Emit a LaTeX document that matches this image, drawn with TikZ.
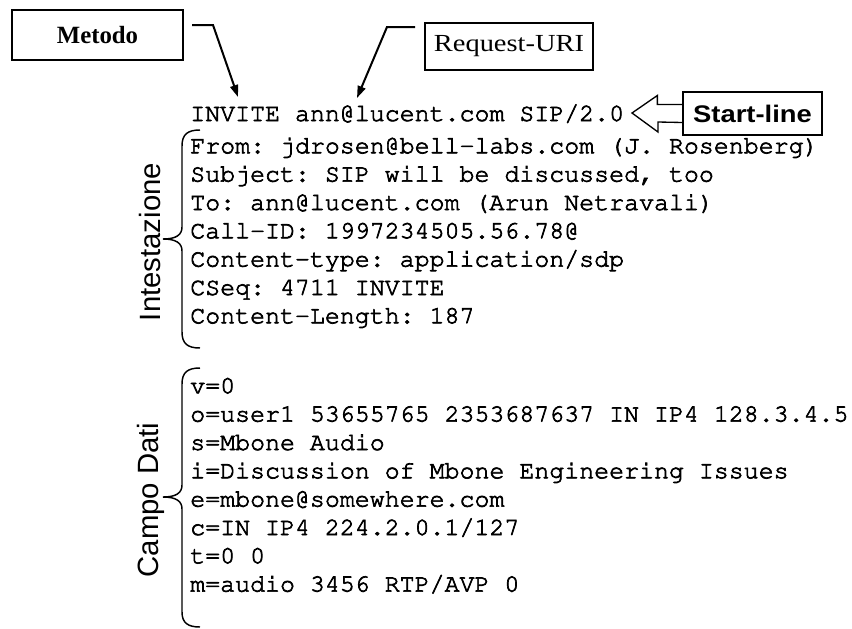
\documentclass[tikz,border=0pt]{standalone}
\usepackage{fontspec}
\setmainfont{Liberation Serif}
\newfontfamily\sansf{Liberation Sans}
% Courier (URW Nimbus Mono) through NFSS for the message text
\newcommand*\monof{\fontencoding{T1}\fontfamily{pcr}\fontseries{m}\selectfont\frenchspacing}
% slightly heavier strokes for the message text (fill + stroke rendering)
\newcommand*\heavyon{\special{pdf:literal direct 2 Tr 0.5 w}}
\newcommand*\heavyoff{\special{pdf:literal direct 0 Tr}}
\usetikzlibrary{arrows.meta}
\begin{document}
\begin{tikzpicture}[x=0.75pt,y=-0.75pt,
  msgline/.style={anchor=base west,inner sep=0pt,font=\fontsize{18.7}{22}\monof,
    execute at begin node=\heavyon, execute at end node=\heavyoff},
  sidelabel/.style={rotate=90,inner sep=0pt,font=\sansf\fontsize{22}{26}\selectfont},
  pointer/.style={line width=1.5pt,-{Triangle[length=9pt,width=6pt]}},
  curly/.style={line width=1.1pt}]
\useasboundingbox (0,0) rectangle (852,628);

% labelled boxes
\node[draw,line width=2.2pt,minimum width=128.25pt,minimum height=37.5pt,inner sep=0pt,
      font=\bfseries\fontsize{18.6}{22}\selectfont] (metodo) at (97.5,35) {Metodo};
\node[draw,line width=1.8pt,minimum width=126pt,minimum height=35.25pt,inner sep=0pt,
      font=\fontsize{18.4}{22}\selectfont] (uri) at (509,46.5) {\scalebox{1.16}[1]{Request-URI}};
\node[draw,line width=1pt,minimum width=104.25pt,minimum height=32.25pt,inner sep=0pt,
      font=\sansf\bfseries\fontsize{18}{22}\selectfont] (start) at (752.5,113.5) {\scalebox{1.14}[1]{Start-line}};

% section labels
\node[sidelabel] (intest) at (150,242) {Intestazione};
\node[sidelabel] (dati) at (151,500) {Campo Dati};

% request line
\node[msgline] (invite) at (190,121) {INVITE ann@lucent.com SIP/2.0};

% header fields
\node[msgline] (h1) at (190,153.3) {From: jdrosen@bell-labs.com (J. Rosenberg)};
\node[msgline] (h2) at (190,181.6) {Subject: SIP will be discussed, too};
\node[msgline] (h3) at (190,210.0) {To: ann@lucent.com (Arun Netravali)};
\node[msgline] (h4) at (190,238.3) {Call-ID: 1997234505.56.78@};
\node[msgline] (h5) at (190,266.6) {Content-type: application/sdp};
\node[msgline] (h6) at (190,295.0) {CSeq: 4711 INVITE};
\node[msgline] (h7) at (190,323.3) {Content-Length: 187};

% SDP body
\node[msgline] (d1) at (190,393.3) {v=0};
\node[msgline] (d2) at (190,421.6) {o=user1 53655765 2353687637 IN IP4 128.3.4.5};
\node[msgline] (d3) at (190,450.0) {s=Mbone Audio};
\node[msgline] (d4) at (190,478.3) {i=Discussion of Mbone Engineering Issues};
\node[msgline] (d5) at (190,506.6) {e=mbone@somewhere.com};
\node[msgline] (d6) at (190,535.0) {c=IN IP4 224.2.0.1/127};
\node[msgline] (d7) at (190,563.3) {t=0 0};
\node[msgline] (d8) at (190,591.6) {m=audio 3456 RTP/AVP 0};

% pointers to the method and the request URI
\coordinate (mA) at (192,25);
\coordinate (mB) at (213,25);
\coordinate (mTip) at (238,97);
\draw[pointer] (mA) -- (mB) -- (mTip);
\coordinate (uA) at (415,27);
\coordinate (uB) at (387,27);
\coordinate (uTip) at (357,98);
\draw[pointer] (uA) -- (uB) -- (uTip);

% hollow block arrow from the start-line box
\draw[line width=1pt,line join=miter]
  ([yshift=6.75pt]start.west) -- ++(-25,0) -- ++(0,-9) -- (632,113)
  -- (658,132) -- ++(0,-10) -- ([yshift=-6.75pt]start.west);

% braces
\draw[curly] (200,130) .. controls (188,130) and (182,134) .. (182,146) -- (182,227)
  .. controls (182,235) and (176,239) .. (163,239)
  .. controls (176,239) and (182,243) .. (182,251) -- (182,332)
  .. controls (182,344) and (188,348) .. (200,348);
\draw[curly] (200,368) .. controls (188,368) and (182,372) .. (182,384) -- (182,485)
  .. controls (182,493) and (176,497) .. (163,497)
  .. controls (176,497) and (182,501) .. (182,509) -- (182,612)
  .. controls (182,623) and (188,627) .. (200,627);
\end{tikzpicture}
\end{document}
